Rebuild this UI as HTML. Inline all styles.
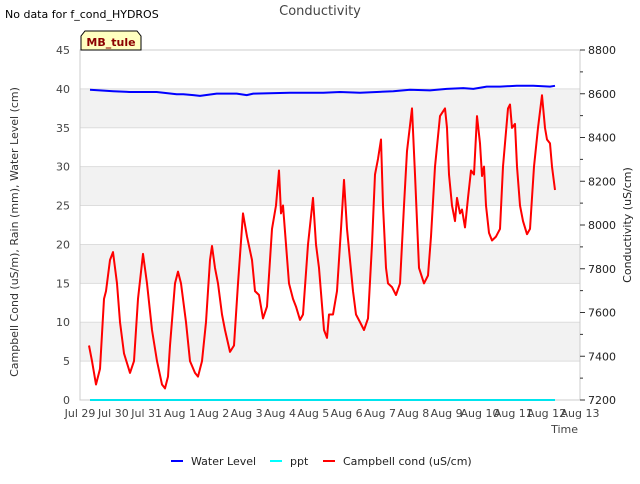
<!DOCTYPE html>
<html><head><meta charset="utf-8"><style>
body{margin:0;background:#fff;font-family:"DejaVu Sans","Liberation Sans",sans-serif;}
svg text{font-family:"DejaVu Sans","Liberation Sans",sans-serif;}
</style></head><body>
<svg id="chart" width="640" height="480" xmlns="http://www.w3.org/2000/svg">
<text x="5" y="18" font-size="11" fill="#000">No data for f_cond_HYDROS</text>
<text x="320" y="15" font-size="13" fill="#444" text-anchor="middle">Conductivity</text>
<g id="bands"></g>
<g id="grid"></g>
<rect x="80" y="50" width="500" height="350" fill="none" stroke="#ccc"/>
<g id="lax"></g>
<g id="rax"></g>
<g id="xax"></g>
<g id="series"></g>
<text transform="translate(18,232) rotate(-90)" font-size="11" fill="#333" text-anchor="middle">Campbell Cond (uS/m), Rain (mm), Water Level (cm)</text>
<text transform="translate(631,225) rotate(-90)" font-size="11" fill="#222" text-anchor="middle">Conductivity (uS/cm)</text>
<text x="578" y="433" font-size="11" fill="#444" text-anchor="end">Time</text>
<g>
<path d="M81,50 L81,36 L85,31 L137,31 L141,36 L141,50 Z" fill="#ffffc0" stroke="#000"/>
<text x="111" y="46" font-size="11" font-weight="bold" fill="#8b0000" text-anchor="middle">MB_tule</text>
</g>
<g>
<line x1="171" y1="461" x2="183" y2="461" stroke="#00f" stroke-width="2"/>
<text x="191" y="465" font-size="11" fill="#222">Water Level</text>
<line x1="270" y1="461" x2="282" y2="461" stroke="#0ff" stroke-width="2"/>
<text x="290" y="465" font-size="11" fill="#222">ppt</text>
<line x1="323" y1="461" x2="335" y2="461" stroke="#f00" stroke-width="2"/>
<text x="343" y="465" font-size="11" fill="#222">Campbell cond (uS/cm)</text>
</g>
</svg>
<script>
const xTickLabels=["Jul 29","Jul 30","Jul 31","Aug 1","Aug 2","Aug 3","Aug 4","Aug 5","Aug 6","Aug 7","Aug 8","Aug 9","Aug 10","Aug 11","Aug 12","Aug 13"];
const leftTicks=[0,5,10,15,20,25,30,35,40,45];
const rightTicks=[7200,7400,7600,7800,8000,8200,8400,8600,8800];
// times in days since Jul 29 00:00
const condT=[0.27,0.36,0.48,0.6,0.72,0.78,0.9,0.99,1.11,1.2,1.32,1.5,1.62,1.74,1.89,2.01,2.16,2.31,2.46,2.55,2.64,2.7,2.85,2.94,3.03,3.18,3.3,3.45,3.54,3.66,3.78,3.9,3.96,4.05,4.14,4.26,4.35,4.5,4.62,4.74,4.89,5.01,5.16,5.25,5.37,5.49,5.61,5.76,5.88,5.97,6.03,6.09,6.18,6.27,6.39,6.48,6.6,6.69,6.84,6.99,7.08,7.17,7.32,7.41,7.47,7.59,7.71,7.83,7.92,8.01,8.1,8.19,8.28,8.4,8.52,8.64,8.76,8.85,8.94,9.03,9.09,9.18,9.24,9.36,9.48,9.6,9.72,9.81,9.96,10.05,10.17,10.32,10.44,10.53,10.65,10.8,10.95,11.01,11.07,11.16,11.25,11.31,11.4,11.46,11.55,11.64,11.73,11.82,11.91,12.0,12.06,12.12,12.18,12.27,12.36,12.48,12.6,12.69,12.84,12.9,12.96,13.05,13.11,13.2,13.29,13.41,13.5,13.62,13.74,13.86,13.95,14.01,14.1,14.16,14.25];
const condV=[7449,7378,7271,7342,7662,7698,7840,7876,7733,7556,7413,7324,7378,7662,7868,7733,7520,7378,7271,7253,7307,7449,7733,7787,7733,7556,7378,7324,7307,7378,7556,7840,7904,7804,7733,7591,7520,7420,7449,7733,8053,7947,7840,7698,7680,7573,7627,7982,8089,8249,8053,8089,7911,7733,7662,7627,7566,7591,7911,8124,7911,7804,7520,7484,7591,7591,7698,7982,8206,7982,7840,7698,7591,7556,7520,7573,7911,8231,8302,8391,8089,7804,7733,7716,7680,7733,8089,8338,8533,8231,7804,7733,7769,7947,8267,8498,8533,8444,8231,8089,8018,8124,8053,8071,7989,8124,8249,8231,8498,8373,8224,8267,8089,7964,7929,7947,7982,8267,8533,8551,8444,8462,8267,8089,8018,7958,7982,8267,8444,8593,8444,8391,8373,8267,8160];
const wlT=[0.3,1.0,1.5,2.0,2.3,2.9,3.1,3.4,3.6,4.1,4.7,5.0,5.2,6.3,7.3,7.8,8.4,8.9,9.4,9.9,10.5,11.0,11.5,11.8,12.2,12.6,13.1,13.6,14.1,14.25];
const wlV=[39.9,39.7,39.6,39.6,39.6,39.3,39.3,39.2,39.1,39.4,39.4,39.2,39.4,39.5,39.5,39.6,39.5,39.6,39.7,39.9,39.8,40.0,40.1,40.0,40.3,40.3,40.4,40.4,40.3,40.4];
const pptT=[0.3,14.25];
const pptV=[0,0];
const NS="http://www.w3.org/2000/svg";
const X0=80,X1=580,Y0=400,Y1=50;
const xs=d=>X0+d*(X1-X0)/15;
const yl=v=>Y0-v*(Y0-Y1)/45;
const yr=v=>Y0-(v-7200)*(Y0-Y1)/1600;
function mk(tag,attrs,parent){const e=document.createElementNS(NS,tag);for(const k in attrs)e.setAttribute(k,attrs[k]);parent.appendChild(e);return e;}
const bands=document.getElementById('bands'),grid=document.getElementById('grid');
for(let i=0;i<leftTicks.length-1;i++){
  if(i%2===1){const r=mk('rect',{x:X0,y:yl(leftTicks[i+1]),width:X1-X0,height:yl(leftTicks[i])-yl(leftTicks[i+1]),fill:'#f2f2f2'},bands);
  
  }
}
const lax=document.getElementById('lax');
leftTicks.forEach(v=>{
  const l=mk('line',{x1:X0,x2:X1,y1:yl(v),y2:yl(v),stroke:'#ddd'},grid);
  
  
  const t=mk('text',{x:X0-10,y:yl(v)+4,'font-size':11,fill:'#444','text-anchor':'end'},lax);
  
  
  t.textContent=v;
});
const rax=document.getElementById('rax');
for(let v=7200;v<=8800;v+=100){
  const tk=mk('line',{x1:X1,x2:X1+(v%200===0?5:3),y1:yr(v),y2:yr(v),stroke:'#333'},rax);
  
  
}
rightTicks.forEach(v=>{
  const t=mk('text',{x:X1+8,y:yr(v)+4,'font-size':11,fill:'#222'},rax);
  
  
  t.textContent=v;
});
const xax=document.getElementById('xax');
xTickLabels.forEach((s,i)=>{
  const t=mk('text',{x:xs(i),y:417,'font-size':11,fill:'#444','text-anchor':'middle'},xax);
  
  
  t.textContent=s;
});
const ser=document.getElementById('series');
function line(T,V,yf,col,name){
  const n=Math.min(T.length,V.length);
  let d='';
  for(let i=0;i<n;i++)d+=(i?'L':'M')+xs(T[i]).toFixed(1)+','+yf(V[i]).toFixed(1);
  const p=mk('path',{d:d,fill:'none',stroke:col,'stroke-width':2,'stroke-linejoin':'round'},ser);
  
  
}
line(pptT,pptV,yl,'#00e5ee','ppt-line');
line(wlT,wlV,yl,'#0000ff','water-level-line');
line(condT,condV,yr,'#ff0000','campbell-cond-line');
</script>
</body></html>
